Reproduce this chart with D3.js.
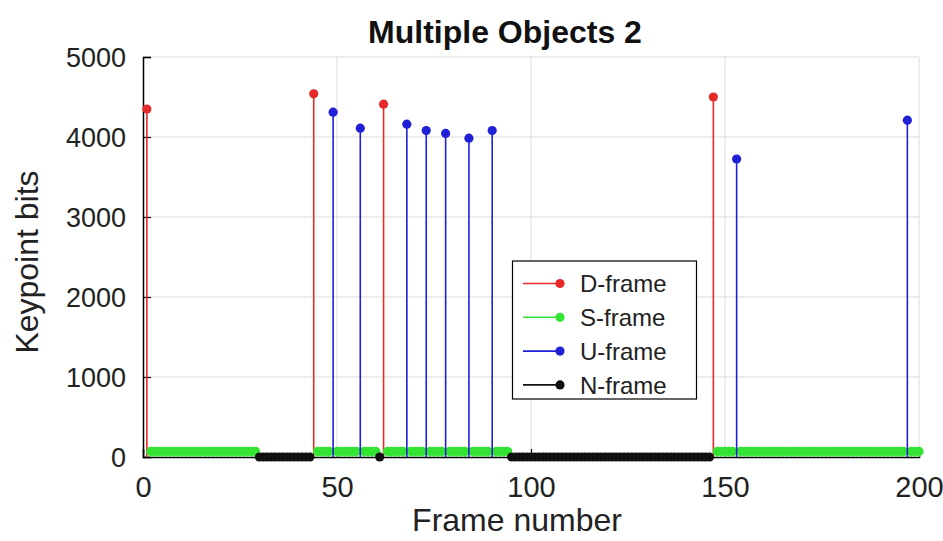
<!DOCTYPE html>
<html>
<head>
<meta charset="utf-8">
<script src="https://cdn.jsdelivr.net/npm/d3@7"></script>
<style>
  html, body { margin: 0; padding: 0; background: #fff; }
  svg { display: block; font-family: "Liberation Sans", Arial, sans-serif; }
</style>
</head>
<body>
<div id="chart"></div>
<script>
// Frame types
const dFrames = [1, 44, 62, 147];
const dBits = [4350, 4540, 4410, 4500];

const uFrames = [49, 56, 68, 73, 78, 84, 90, 153, 197];
const uBits = [4310, 4110, 4160, 4080, 4045, 3985, 4080, 3725, 4210];

// N-frames: runs [first, last], all at 0 bits
const nRuns = [[30, 43], [61, 61], [95, 146]];
const nBits = 0;

// S-frames fill every remaining frame in 1..200 at a small constant size
const frameRange = [1, 200];
const sBits = 70;

const xTicks = [0, 50, 100, 150, 200];
const yTicks = [0, 1000, 2000, 3000, 4000, 5000];

const seriesNames = ['D-frame', 'S-frame', 'U-frame', 'N-frame'];
const seriesColors = ['#e62a2a', '#33e433', '#2020d6', '#111111'];

(function () {
    'use strict';

    const W = 943, H = 541;
    const plot = { left: 143, right: 919, top: 57, bottom: 457 };

    // Expand runs into frame lists
    const nFrames = [];
    nRuns.forEach(r => { for (let f = r[0]; f <= r[1]; f++) nFrames.push(f); });
    const taken = new Set([...dFrames, ...uFrames, ...nFrames]);
    const sFrames = [];
    for (let f = frameRange[0]; f <= frameRange[1]; f++) if (!taken.has(f)) sFrames.push(f);

    const series = [
        { pts: dFrames.map((f, i) => [f, dBits[i]]), color: seriesColors[0] },
        { pts: sFrames.map(f => [f, sBits]), color: seriesColors[1] },
        { pts: uFrames.map((f, i) => [f, uBits[i]]), color: seriesColors[2] },
        { pts: nFrames.map(f => [f, nBits]), color: seriesColors[3] }
    ];

    const svg = d3.select('#chart').append('svg')
        .attr('width', W).attr('height', H);

    svg.append('rect').attr('width', W).attr('height', H).attr('fill', '#fff');

    const x = d3.scaleLinear().domain([0, 200]).range([plot.left, plot.right]);
    const y = d3.scaleLinear().domain([0, 5000]).range([plot.bottom, plot.top]);

    // Grid
    const grid = svg.append('g').attr('stroke', '#dcdcdc').attr('stroke-width', 1);
    grid.selectAll('.gx').data(xTicks.slice(1)).enter().append('line')
        .attr('x1', d => x(d)).attr('x2', d => x(d))
        .attr('y1', plot.top).attr('y2', plot.bottom);
    grid.selectAll('.gy').data(yTicks.slice(1)).enter().append('line')
        .attr('x1', plot.left).attr('x2', plot.right)
        .attr('y1', d => y(d)).attr('y2', d => y(d));

    // Axes (ticks inward)
    const fmt = d3.format('d');
    const xAxis = d3.axisBottom(x).tickValues(xTicks).tickFormat(fmt).tickSize(-8);
    const yAxis = d3.axisLeft(y).tickValues(yTicks).tickFormat(fmt).tickSize(-8);

    const gx = svg.append('g').attr('transform', `translate(0,${plot.bottom})`).call(xAxis);
    const gy = svg.append('g').attr('transform', `translate(${plot.left},0)`).call(yAxis);
    [gx, gy].forEach(g => {
        g.select('.domain').attr('stroke', '#000').attr('stroke-width', 1.5);
        g.selectAll('.tick line').attr('stroke', '#000').attr('stroke-width', 1.2);
        g.selectAll('.tick text').attr('fill', '#222')
            .style('font-family', '"Liberation Sans", Arial, sans-serif');
    });
    gy.selectAll('.tick text').attr('x', -17).attr('dy', '0.36em').style('font-size', '27px');
    gx.selectAll('.tick text').attr('y', 40).attr('dy', 0).style('font-size', '29px');

    // Stems
    series.forEach(s => {
        const g = svg.append('g');
        g.selectAll('line').data(s.pts).enter().append('line')
            .attr('x1', d => x(d[0])).attr('x2', d => x(d[0]))
            .attr('y1', y(0)).attr('y2', d => y(d[1]))
            .attr('stroke', s.color).attr('stroke-width', 1.6);
        g.selectAll('circle').data(s.pts).enter().append('circle')
            .attr('cx', d => x(d[0])).attr('cy', d => y(d[1]))
            .attr('r', 4.6).attr('fill', s.color);
    });

    // Title and axis labels
    svg.append('text').attr('x', 505).attr('y', 43)
        .attr('text-anchor', 'middle').attr('font-weight', 'bold')
        .style('font-size', '32px').attr('fill', '#111')
        .text('Multiple Objects 2');

    svg.append('text').attr('x', 517).attr('y', 531)
        .attr('text-anchor', 'middle').style('font-size', '32px').attr('fill', '#222')
        .text('Frame number');

    svg.append('text')
        .attr('transform', `translate(38,${(plot.top + plot.bottom) / 2 + 5}) rotate(-90)`)
        .attr('text-anchor', 'middle').style('font-size', '32px').attr('fill', '#222')
        .text('Keypoint bits');

    // Legend
    const lg = svg.append('g');
    lg.append('rect').attr('x', 512.5).attr('y', 261).attr('width', 184).attr('height', 138)
        .attr('fill', '#fff').attr('stroke', '#000').attr('stroke-width', 1.2);
    const rows = lg.selectAll('.row').data(seriesNames).enter().append('g')
        .attr('transform', (d, i) => `translate(0,${283.5 + i * 33.8})`);
    rows.append('line').attr('x1', 523).attr('x2', 560).attr('y1', 0).attr('y2', 0)
        .attr('stroke', (d, i) => seriesColors[i]).attr('stroke-width', 1.6);
    rows.append('circle').attr('cx', 560).attr('cy', 0).attr('r', 4.6)
        .attr('fill', (d, i) => seriesColors[i]);
    rows.append('text').attr('x', 580).attr('y', 0).attr('dy', '0.36em')
        .style('font-size', '24px').attr('fill', '#222')
        .text(d => d);
})();
</script>
</body>
</html>
